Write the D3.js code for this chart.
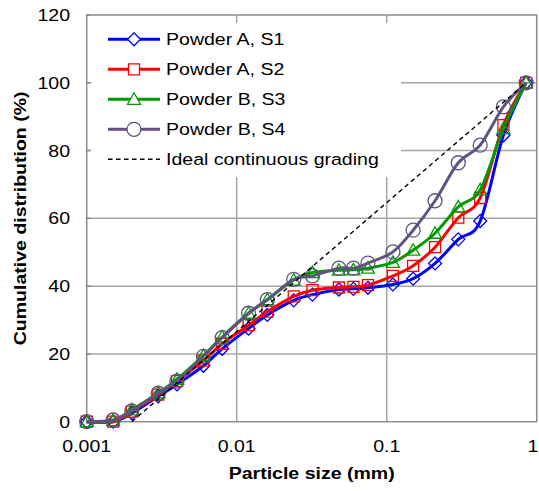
<!DOCTYPE html>
<html>
<head>
<meta charset="utf-8">
<script src="https://cdn.jsdelivr.net/npm/d3@7"></script>
<style>
  html, body { margin: 0; padding: 0; background: #fff; }
  svg { display: block; }
  text { font-family: "Liberation Sans", Arial, sans-serif; fill: #000; }
</style>
</head>
<body>
<svg id="chart" width="539" height="491"></svg>
<script>
// Particle sizes (mm) shared by all four powder samples
const sizes = [0.001, 0.0015, 0.002, 0.003, 0.004, 0.006, 0.008, 0.012, 0.016, 0.024, 0.032,
               0.048, 0.06, 0.075, 0.11, 0.15, 0.21, 0.3, 0.42, 0.6, 0.85];

// Cumulative distribution (%) for each sample
const s1 = [0, 0, 2.5, 7.5, 11, 16.5, 21.5, 27.5, 31.5, 35.8, 37.5, 39, 39.2, 39.5, 40.5, 42.2, 46.7, 53.8, 59.2, 84.5, 100];
const s2 = [0, 0, 3, 8, 12, 18, 23, 28.5, 32.5, 37, 38.8, 39.6, 39.8, 40.3, 43, 46, 51.5, 60.2, 66, 87.5, 100];
const s3 = [0, 0.3, 3.5, 8.5, 12.5, 19.5, 25, 32, 36, 41.8, 44, 44.7, 44.8, 45.3, 47, 50.6, 55.6, 63.4, 68.4, 86.5, 100];
const s4 = [0, 0.5, 3.2, 8.4, 12, 19.3, 24.8, 32, 36, 42, 43, 45.3, 45.3, 46.8, 50.1, 56.5, 65.2, 76.4, 81.6, 92.9, 100];

// Ideal continuous grading: straight in log-size space
const idealSizes = [0.002, 0.85];
const idealValues = [0, 100];

const seriesNames = ["Powder A, S1", "Powder A, S2", "Powder B, S3", "Powder B, S4"];
const idealName = "Ideal continuous grading";

const xTicks = [0.001, 0.01, 0.1, 1];
const xTickLabels = ["0.001", "0.01", "0.1", "1"];
const yTicks = [0, 20, 40, 60, 80, 100, 120];

const xTitle = "Particle size (mm)";
const yTitle = "Cumulative distribution  (%)";

const series = [
  { name: seriesNames[0], values: s1, color: "#0000ff", marker: "diamond" },
  { name: seriesNames[1], values: s2, color: "#ff0000", marker: "square" },
  { name: seriesNames[2], values: s3, color: "#009a00", marker: "triangle" },
  { name: seriesNames[3], values: s4, color: "#615280", marker: "circle" }
];

const W = 539;
const svg = d3.select("#chart");
const plot = { left: 86.7, right: 536.7, top: 15, bottom: 421.7 };

const x = d3.scaleLog().domain([0.001, 1]).range([plot.left, plot.right]);
const y = d3.scaleLinear().domain([0, 120]).range([plot.bottom, plot.top]);

const FS = 17, SX = 1.15;   // font size and horizontal glyph stretch
function label(g, px, py, str, opt = {}) {
  const rot = opt.rotate ? ` rotate(${opt.rotate})` : "";
  return g.append("text")
    .attr("transform", `translate(${px},${py})${rot} scale(${SX},1)`)
    .attr("text-anchor", opt.anchor || "start")
    .attr("font-weight", opt.bold ? "bold" : "normal")
    .attr("font-size", FS)
    .text(str);
}

// gridlines
const grid = svg.append("g").attr("stroke", "#a6a6a6").attr("stroke-width", 1.5);
yTicks.slice(1, -1).forEach(v => {
  grid.append("line").attr("x1", plot.left).attr("x2", plot.right)
    .attr("y1", y(v)).attr("y2", y(v));
});
xTicks.slice(1, -1).forEach(v => {
  grid.append("line").attr("y1", plot.top).attr("y2", plot.bottom)
    .attr("x1", x(v)).attr("x2", x(v));
});

// plot frame
svg.append("rect")
  .attr("x", plot.left).attr("y", plot.top)
  .attr("width", plot.right - plot.left).attr("height", plot.bottom - plot.top)
  .attr("fill", "none").attr("stroke", "#8c8c8c").attr("stroke-width", 1.5);

// y tick marks
yTicks.forEach(v => {
  svg.append("line").attr("x1", plot.left).attr("x2", plot.left + 4)
    .attr("y1", y(v)).attr("y2", y(v)).attr("stroke", "#8c8c8c").attr("stroke-width", 1.5);
});

// axis labels (the last x label is kept inside the canvas edge)
const axG = svg.append("g");
yTicks.forEach(v => label(axG, 70, y(v) + 6, String(v), { anchor: "end" }));
xTicks.forEach((v, i) => label(axG, Math.min(x(v), W - 6), 452, xTickLabels[i], { anchor: "middle" }));
label(axG, (plot.left + plot.right) / 2, 479, xTitle, { anchor: "middle", bold: true });
label(axG, 26, (plot.top + plot.bottom) / 2, yTitle, { anchor: "middle", bold: true, rotate: -90 });

// marker shapes
function markerPath(kind) {
  switch (kind) {
    case "diamond": return "M0,-6.5L6.5,0L0,6.5L-6.5,0Z";
    case "square": return "M-5.5,-5.5H5.5V5.5H-5.5Z";
    case "triangle": return "M0,-6.5L6.5,5L-6.5,5Z";
    default: return d3.arc()({ innerRadius: 0, outerRadius: 7, startAngle: 0, endAngle: 2 * Math.PI });
  }
}

const line = d3.line()
  .x(d => x(d[0])).y(d => y(d[1]))
  .curve(d3.curveCardinal.tension(0));

const dataG = svg.append("g");
series.forEach(s => {
  const pts = sizes.map((sz, i) => [sz, s.values[i]]);
  const g = dataG.append("g");
  g.append("path").attr("d", line(pts))
    .attr("fill", "none").attr("stroke", s.color).attr("stroke-width", 3);
  g.selectAll("path.mk").data(pts).join("path").attr("class", "mk")
    .attr("transform", d => `translate(${x(d[0])},${y(d[1])})`)
    .attr("d", markerPath(s.marker))
    .attr("fill", "none").attr("stroke", s.color).attr("stroke-width", 1.3);
});

// ideal grading line
const idealPts = idealSizes.map((sz, i) => [sz, idealValues[i]]);
dataG.append("path")
  .attr("d", d3.line().x(d => x(d[0])).y(d => y(d[1]))(idealPts))
  .attr("fill", "none").attr("stroke", "#000").attr("stroke-width", 1.4)
  .attr("stroke-dasharray", "4.5,3.5");

// legend
const leg = svg.append("g");
leg.append("rect").attr("x", 91).attr("y", 23).attr("width", 310).attr("height", 154).attr("fill", "#fff");
const rowY = i => 39.3 + i * 30;
series.forEach((s, i) => {
  const yy = rowY(i);
  leg.append("line").attr("x1", 108).attr("x2", 160).attr("y1", yy).attr("y2", yy)
    .attr("stroke", s.color).attr("stroke-width", 3);
  leg.append("path").attr("transform", `translate(134,${yy})`).attr("d", markerPath(s.marker))
    .attr("fill", "#fff").attr("stroke", s.color).attr("stroke-width", 1.3);
  label(leg, 166, yy + 6, s.name);
});
leg.append("line").attr("x1", 108).attr("x2", 160).attr("y1", rowY(4)).attr("y2", rowY(4))
  .attr("stroke", "#000").attr("stroke-width", 1.4).attr("stroke-dasharray", "4.5,3.5");
label(leg, 166, rowY(4) + 6, idealName);
</script>
</body>
</html>
